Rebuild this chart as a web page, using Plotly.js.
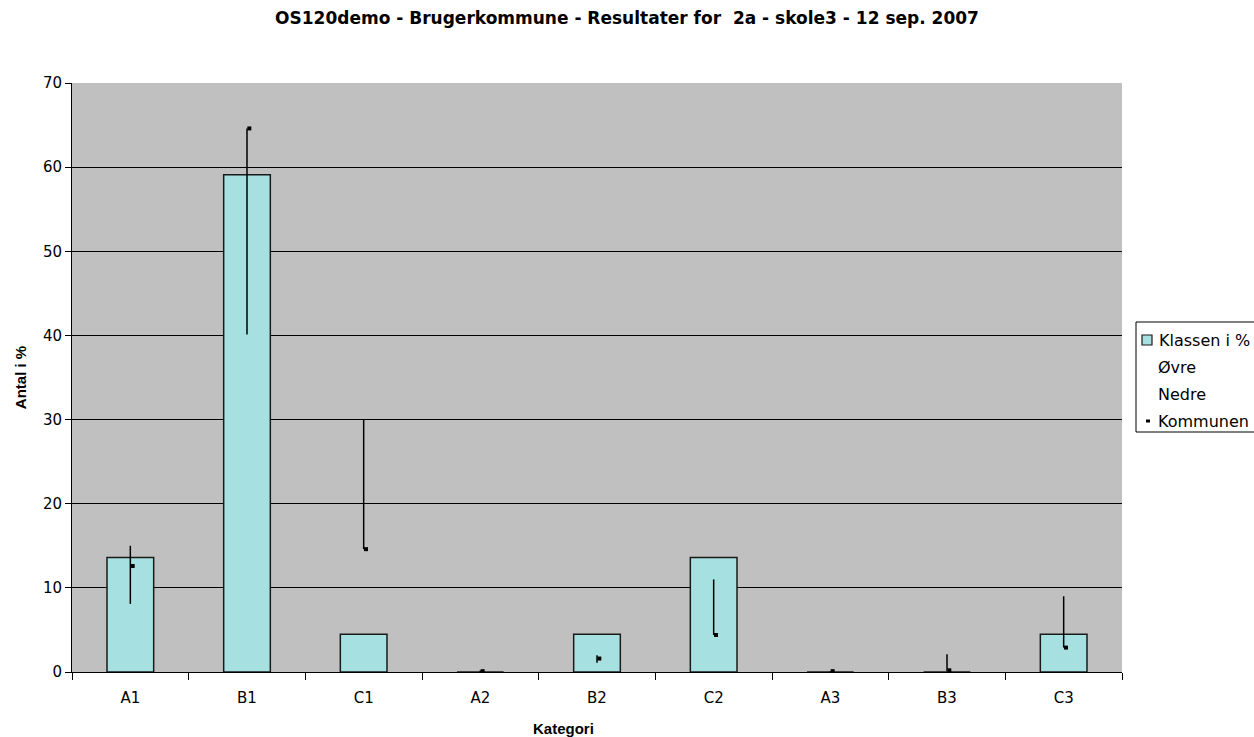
<!DOCTYPE html>
<html>
<head>
<meta charset="utf-8">
<script src="https://cdn.plot.ly/plotly-3.0.1.min.js"></script>
<style>html,body{margin:0;padding:0;background:#fff;}#chart{width:1254px;height:737px;}</style>
</head>
<body>
<div id="chart"></div>
<script>
var categories = ["A1", "B1", "C1", "A2", "B2", "C2", "A3", "B3", "C3"];
var klassen = [13.6, 59.1, 4.5, 0, 4.5, 13.6, 0, 0, 4.5];
var ovre = [15.0, 64.6, 30.0, 0.2, 2.0, 11.0, 0.1, 2.1, 9.0];
var nedre = [8.1, 40.1, 14.6, 0.0, 1.1, 4.4, 0.0, 0.1, 2.9];
var kommunen = [12.6, 64.6, 14.6, 0.1, 1.6, 4.4, 0.1, 0.2, 2.9];
var seriesNames = ["Klassen i %", "Øvre", "Nedre", "Kommunen"];
var yTicks = [0, 10, 20, 30, 40, 50, 60, 70];

var barColor = "#A6E0E0";
var font = "DejaVu Sans, Liberation Sans, Arial, sans-serif";
var titleFont = "Liberation Sans, Arial, sans-serif";

var hlX = [], hlY = [];
categories.forEach(function (c, i) {
  hlX.push(c, c, null);
  hlY.push(nedre[i], ovre[i], null);
});

var traces = [
  {
    type: "bar", name: seriesNames[0], x: categories, y: klassen,
    marker: { color: barColor, line: { color: "#1a1a1a", width: 1.5 } }
  },
  {
    type: "scatter", mode: "markers", name: seriesNames[1], x: categories, y: ovre,
    marker: { opacity: 0, size: 1 }
  },
  {
    type: "scatter", mode: "markers", name: seriesNames[2], x: categories, y: nedre,
    marker: { opacity: 0, size: 1 }
  },
  {
    type: "scatter", mode: "lines", x: hlX, y: hlY,
    line: { color: "#000", width: 1.5 }, connectgaps: false
  },
  {
    type: "scatter", mode: "markers", name: seriesNames[3], x: categories, y: kommunen,
    xaxis: "x2",
    marker: { symbol: "square", size: 4, color: "#000" }
  }
];

// plot area in pixels: x 72..1122, y 83..672
function px(x) { return (x - 72) / 1050; }
function py(y) { return (672 - y) / 589; }

var rowsY = [340, 367, 394, 421];
var shapes = [
  { type: "rect", xref: "paper", yref: "paper", x0: px(1136), x1: px(1262), y0: py(322), y1: py(432),
    line: { color: "#000", width: 1 }, fillcolor: "#fff", layer: "above" },
  { type: "rect", xref: "paper", yref: "paper", x0: px(1142), x1: px(1152), y0: py(rowsY[0] - 5), y1: py(rowsY[0] + 5),
    line: { color: "#1a1a1a", width: 1.2 }, fillcolor: barColor, layer: "above" },
  { type: "rect", xref: "paper", yref: "paper", x0: px(1146), x1: px(1150), y0: py(rowsY[3] - 1.5), y1: py(rowsY[3] + 1.5),
    line: { width: 0 }, fillcolor: "#000", layer: "above" }
];
var textX = [1157, 1156, 1156, 1156];
var annotations = seriesNames.map(function (n, i) {
  return {
    text: n, xref: "paper", yref: "paper", x: px(textX[i]), y: py(rowsY[i]),
    xanchor: "left", yanchor: "middle", showarrow: false,
    font: { family: font, size: 16, color: "#000" }
  };
});
annotations.push({
  text: "<b>Kategori</b>", xref: "paper", yref: "paper", x: px(563), y: py(728),
  xanchor: "center", yanchor: "middle", showarrow: false,
  font: { family: titleFont, size: 15, color: "#000" }
});

var layout = {
  width: 1254, height: 737,
  margin: { l: 72, r: 132, t: 83, b: 65, autoexpand: false },
  paper_bgcolor: "#fff",
  plot_bgcolor: "#C0C0C0",
  bargap: 0.6,
  showlegend: false,
  font: { family: font, color: "#000", size: 15 },
  title: {
    text: "<b>OS120demo - Brugerkommune - Resultater for  2a - skole3 - 12 sep. 2007</b>",
    font: { family: font, size: 17, color: "#000" },
    x: 0.5, xref: "container", xanchor: "center",
    y: 1 - 18 / 737, yref: "container", yanchor: "middle"
  },
  xaxis: {
    type: "category", categoryorder: "array", categoryarray: categories,
    range: [-0.5, 8.5],
    showline: true, linecolor: "#000", linewidth: 1,
    showgrid: false, zeroline: false,
    ticks: "outside", tickson: "boundaries", ticklen: 7, tickcolor: "#000", tickwidth: 1,
    tickfont: { family: font, size: 15, color: "#000" },
    ticklabelstandoff: 12
  },
  xaxis2: {
    type: "category", categoryorder: "array", categoryarray: categories,
    overlaying: "x", range: [-0.5 - 0.02, 8.5 - 0.02],
    visible: false, showgrid: false, zeroline: false
  },
  yaxis: {
    range: [0, 70], tickvals: yTicks, ticktext: yTicks.map(String),
    showline: true, linecolor: "#000", linewidth: 1,
    showgrid: true, gridcolor: "#000", gridwidth: 1,
    zeroline: true, zerolinecolor: "#000", zerolinewidth: 1,
    ticks: "outside", ticklen: 6, tickcolor: "#000", tickwidth: 1,
    tickfont: { family: font, size: 15, color: "#000" },
    title: { text: "<b>Antal i %</b>", font: { family: titleFont, size: 15, color: "#000" }, standoff: 12 }
  },
  shapes: shapes,
  annotations: annotations
};

Plotly.newPlot("chart", traces, layout, { displayModeBar: false, staticPlot: true });
</script>
</body>
</html>
